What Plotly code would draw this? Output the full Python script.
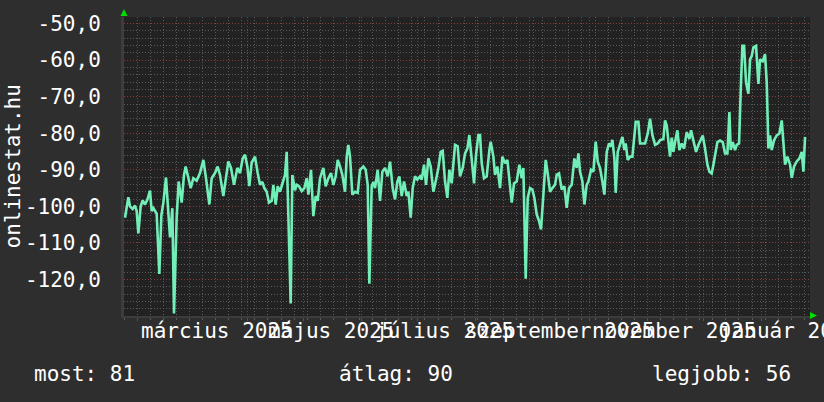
import datetime as dt
import plotly.graph_objects as go

# ---- data ----
start_date = dt.datetime(2025, 1, 25)
days = [0.54, 2.32, 3.21, 4.64, 5.89, 6.78, 7.67, 8.92, 9.99, 11.24, 12.48, 13.91, 14.80, 15.69,
        17.48, 18.90, 19.98, 21.05, 22.47, 23.72, 24.61, 25.86, 26.75, 28.18, 29.25, 30.85, 32.10,
        32.99, 34.42, 35.67, 37.10, 38.88, 40.66, 42.45, 43.87, 45.66, 46.91, 48.69, 50.12, 51.36,
        53.15, 54.57, 55.82, 57.25, 58.86, 60.64, 62.07, 63.49, 64.74, 65.99, 67.06, 68.31,
        70.09, 71.52, 72.77, 74.01, 75.08, 76.33, 77.58, 79.01, 79.90, 81.15, 82.22, 83.47, 84.71,
        86.14, 87.03, 87.92, 89.17, 90.06, 91.49, 92.38, 93.63, 95.06, 96.49, 97.73, 98.63, 100.05,
        101.30, 102.55, 103.62, 104.87, 106.65, 107.90, 109.33, 110.75, 112.00, 113.25, 114.32,
        115.57, 116.82, 118.24, 119.14, 120.03, 120.92, 122.17, 123.59, 125.02, 126.27, 128.05,
        129.30, 130.37, 131.26, 132.51, 133.40, 134.30, 135.72, 136.97, 138.22, 139.65, 141.07,
        142.32, 143.75, 144.99, 146.24, 147.31, 148.56, 149.81, 151.24, 152.13, 153.38, 154.45,
        155.70, 156.94, 158.37, 159.26, 160.51, 161.58, 162.83, 164.08, 165.51, 166.93, 168.18,
        169.43, 170.50, 171.75, 172.99, 174.07, 175.31, 177.10, 178.52, 179.77, 181.20, 182.45,
        183.70, 184.77, 186.02, 187.26, 188.33, 189.58, 190.47, 191.37, 192.61, 194.04, 195.47,
        196.18, 197.61, 198.50, 199.75, 201.17, 202.42, 203.85, 205.10, 206.17, 207.42, 208.67,
        210.09, 211.52, 212.77, 213.66, 214.90,
        215.98, 217.23, 218.47, 219.54, 220.79, 222.04, 223.11, 224.36, 225.61, 226.68, 227.93,
        229.17, 230.60, 231.49, 232.74, 234.17, 235.59, 236.84, 238.09, 239.52, 240.94, 242.19,
        243.09, 243.98, 245.23, 246.30, 247.54, 248.44, 249.86, 251.11, 252.36, 253.43, 254.68,
        255.93, 257.00, 258.25, 259.49, 260.56, 261.28, 262.35, 263.06, 264.13, 265.38, 266.63,
        267.70, 268.41, 269.48, 270.73, 271.98, 273.05, 273.76, 275.19, 276.08, 277.33, 278.76,
        280.18, 281.43, 282.68, 284.11, 285.53,
        286.78, 288.56, 289.46, 290.35, 291.24, 292.13, 293.02, 293.92, 294.81, 296.05, 297.12,
        298.37, 299.62, 301.05, 302.47, 303.37, 304.61, 306.04, 307.29, 308.54, 309.61, 310.86,
        312.11, 313.18, 314.42, 315.32, 316.74, 317.46, 318.88, 320.31, 321.56, 322.81, 323.88,
        324.59, 325.66, 326.91, 327.80, 329.05, 329.94, 330.83, 331.72, 332.79, 334.04, 334.93,
        335.83, 336.72, 338.14, 339.39, 340.28, 341.71, 342.96, 343.85, 344.74, 345.64, 346.53,
        347.78, 349.20, 350.63, 351.88, 352.77, 353.66, 354.91, 356.34, 357.23, 358.48, 359.90,
        361.33, 362.58, 363.47, 364.36]
values = [-103.1, -97.5, -100.0, -100.7, -99.8, -101.3, -107.4, -100.0, -98.4, -99.5, -98.2, -95.7,
          -101.3, -100.5, -102.0, -118.5, -102.5, -99.0, -92.1, -100.5, -108.5, -100.5, -129.3,
          -103.0, -93.2, -99.0, -91.4, -89.1, -92.7, -95.0, -92.3, -93.0, -90.9, -87.3, -92.3,
          -99.5, -92.3, -90.9, -89.1, -91.4, -97.2, -92.3, -87.7, -89.5, -94.1, -89.5, -90.9,
          -86.9, -85.9, -89.1, -94.5, -88.0,
          -86.4, -90.9, -94.1, -93.3, -95.0, -96.0, -99.0, -98.5, -94.1, -99.5, -94.5, -96.0, -93.7,
          -91.4, -85.1, -105.4, -126.6, -91.4, -95.6, -94.1, -94.5, -95.8, -95.0, -92.3, -96.8,
          -90.0, -102.7, -97.2, -98.5, -92.3, -89.5, -94.5, -92.3, -90.9, -94.1, -91.8, -87.3,
          -89.1, -91.4, -96.0, -86.4, -83.2, -86.4, -96.8, -96.0, -96.3, -90.0, -89.1, -90.0,
          -94.1, -121.2, -94.5, -93.3, -95.0, -90.0, -98.5, -90.5, -89.5, -91.8,
          -87.8, -95.0, -98.1, -93.2, -91.8, -97.2, -93.2, -97.2, -96.0, -103.1, -95.0, -91.8,
          -92.7, -91.8, -92.7, -88.6, -94.1, -86.9, -89.1, -96.0, -92.7, -89.5, -85.1, -84.8,
          -93.2, -97.7, -90.0, -93.7, -83.2, -83.6, -91.8, -89.5, -85.5, -84.2, -80.5, -86.9,
          -93.7, -85.9, -80.5, -80.5, -88.2, -92.3, -91.8, -84.6, -82.3, -86.4, -91.4, -89.1,
          -95.0, -86.4, -88.2, -87.3, -92.3, -99.0, -93.7, -93.2, -88.6, -92.3, -89.5, -119.8,
          -97.7, -95.0, -95.4, -97.7, -102.2, -104.0, -106.3, -97.7, -87.3, -91.0, -96.0, -95.0,
          -94.1, -91.4, -91.0, -95.4, -94.5, -100.4, -95.0, -94.1, -86.9, -89.5, -85.5, -90.5,
          -93.2, -99.5, -94.1, -93.2, -90.0, -90.5, -82.3, -87.7, -89.5, -93.2, -96.8, -85.1,
          -82.8, -83.6, -81.8, -86.9, -96.3, -85.1, -82.8, -81.0, -84.6, -82.8, -87.3, -86.4,
          -86.4, -80.5, -76.9, -76.9, -82.8, -82.8, -82.8, -80.1, -76.0, -80.5, -83.2, -82.8,
          -81.9, -81.6, -76.5, -77.9, -83.2, -86.4, -81.2, -85.1, -82.4, -79.2, -84.6, -82.8,
          -84.2, -79.7, -81.6, -79.2, -82.0, -85.1, -83.2, -81.6, -80.6, -84.2, -88.6, -90.5,
          -91.0, -88.6, -85.1, -82.4, -82.0, -82.4, -85.5, -85.5, -74.2, -84.6, -82.4, -84.6,
          -83.2, -82.8, -68.3, -56.1, -56.1, -66.1, -69.2, -59.8, -58.9, -56.5, -56.1, -66.5,
          -59.8, -60.3, -58.4, -66.1, -84.2, -80.6, -84.6, -81.9, -80.6, -80.1, -76.5, -82.4,
          -88.6, -86.4, -88.6, -92.2, -89.1, -87.7, -86.9, -85.1, -90.5, -81.0]

y_tick_vals = [-50, -60, -70, -80, -90, -100, -110, -120]
y_tick_text = ["-50,0", "-60,0", "-70,0", "-80,0", "-90,0", "-100,0", "-110,0", "-120,0"]
month_starts = ["2025-02-01", "2025-03-01", "2025-04-01", "2025-05-01", "2025-06-01",
                "2025-07-01", "2025-08-01", "2025-09-01", "2025-10-01", "2025-11-01",
                "2025-12-01", "2026-01-01"]
label_dates = ["2025-03-15 12:00", "2025-05-15 12:00", "2025-07-15 12:00",
               "2025-09-15", "2025-11-15", "2026-01-15 12:00"]
label_texts = ["március 2025", "május 2025", "július 2025", "szeptember 2025",
               "november 2025", "január 2026"]
axis_title = "onlinestat.hu"
summary = [("most: 81", 32), ("átlag: 90", 337), ("legjobb: 56", 650)]

# ---- style ----
FONT = "DejaVu Sans Mono"
FS = 21
W, H = 824, 402
L, R, T, B = 124, 14, 14, 86
PW, PH = W - L - R, H - T - B
MINOR = "#5a5a5a"
MAJOR = "#8a3c3c"
LINE = "#72eeb8"
DOT = "1px,2px"

dates = [start_date + dt.timedelta(days=d) for d in days]

fig = go.Figure()
fig.add_trace(go.Scatter(x=dates, y=values, mode="lines",
                         line=dict(color=LINE, width=2.6), hoverinfo="skip"))


def px_x(p):
    return (p - L) / PW


def px_y(p):
    return (H - B - p) / PH


annotations = []
for d, t in zip(label_dates, label_texts):
    annotations.append(dict(x=d, xref="x", y=px_y(331), yref="paper", text=t,
                            showarrow=False, xanchor="center", yanchor="middle",
                            font=dict(family=FONT, size=FS, color="#ffffff")))
annotations.append(dict(x=px_x(12), xref="paper", y=0.5, yref="paper", text=axis_title,
                        textangle=-90, showarrow=False, xanchor="center", yanchor="middle",
                        font=dict(family=FONT, size=FS, color="#ffffff")))
for t, xp in summary:
    annotations.append(dict(x=px_x(xp), xref="paper", y=px_y(375), yref="paper", text=t,
                            showarrow=False, xanchor="left", yanchor="middle",
                            font=dict(family=FONT, size=FS, color="#ffffff")))

shapes = [
    dict(type="path", xref="paper", yref="paper",
         path=f"M {px_x(124)} {px_y(6)} L {px_x(120.5)} {px_y(13)} L {px_x(127.5)} {px_y(13)} Z",
         fillcolor="#00dd00", line=dict(width=0)),
    dict(type="path", xref="paper", yref="paper",
         path=f"M {px_x(817)} {px_y(315.5)} L {px_x(810)} {px_y(312)} L {px_x(810)} {px_y(319)} Z",
         fillcolor="#00dd00", line=dict(width=0)),
]

fig.update_layout(
    width=W, height=H,
    margin=dict(l=L, r=R, t=T, b=B),
    paper_bgcolor="#2e2e2e",
    plot_bgcolor="#222222",
    showlegend=False,
    annotations=annotations,
    shapes=shapes,
    font=dict(family=FONT, size=FS, color="#ffffff"),
    xaxis=dict(
        type="date",
        range=["2025-01-25", "2026-01-27"],
        tickmode="array", tickvals=month_starts, showticklabels=False,
        ticks="outside", ticklen=3, tickcolor=MAJOR,
        showgrid=True, gridcolor=MAJOR, griddash=DOT, gridwidth=1,
        minor=dict(tick0="2025-02-01", dtick=7 * 86400000, showgrid=True,
                   gridcolor=MINOR, griddash=DOT, gridwidth=1,
                   ticks="outside", ticklen=2, tickcolor=MINOR),
        showline=True, linecolor="#3c3c3c", linewidth=2,
        zeroline=False, fixedrange=True,
    ),
    yaxis=dict(
        range=[-130, -48.2],
        tickmode="array", tickvals=y_tick_vals, ticktext=y_tick_text,
        tickfont=dict(family=FONT, size=FS, color="#ffffff"),
        ticks="", ticklabelstandoff=16,
        showgrid=True, gridcolor=MAJOR, griddash=DOT, gridwidth=1,
        minor=dict(tick0=0, dtick=2, showgrid=True, gridcolor=MINOR,
                   griddash=DOT, gridwidth=1),
        showline=True, linecolor="#3c3c3c", linewidth=3,
        zeroline=False, fixedrange=True,
    ),
)

fig.write_html(
    "out.html",
    config={"displayModeBar": False},
    post_script="document.body.style.margin='0';document.body.style.overflow='hidden';"
                "document.body.style.background='#2e2e2e';",
)
